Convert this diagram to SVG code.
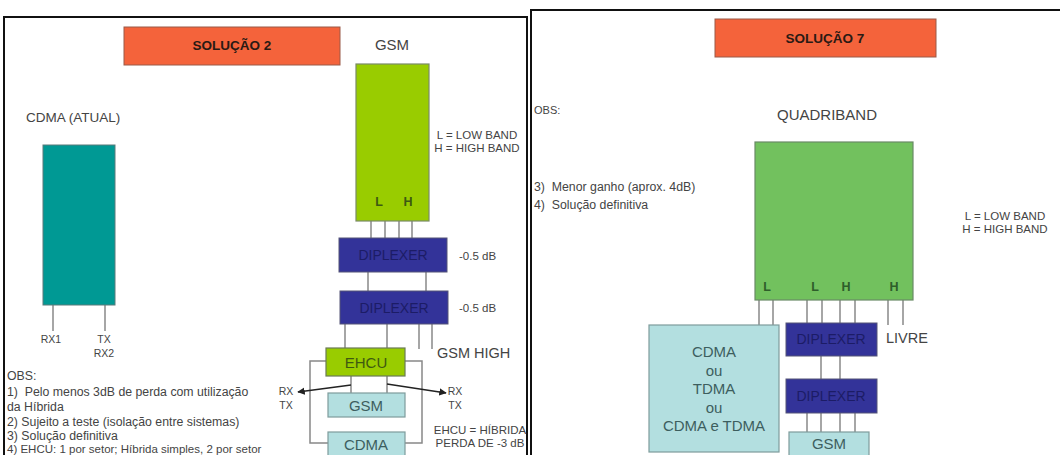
<svg xmlns="http://www.w3.org/2000/svg" width="1060" height="455" viewBox="0 0 1060 455">
<defs>
<style>
text{font-family:"Liberation Sans",Arial,sans-serif;fill:#444;}
.title{font-weight:bold;font-size:13.5px;fill:#2a1a14;text-anchor:middle;}
.lbl{font-size:15px;text-anchor:middle;}
.sm{font-size:11.5px;}
.obs{font-size:12.3px;}
.dip{fill:#333399;stroke:#555577;stroke-width:1;}
.diptx{font-size:14px;fill:#1c1c66;text-anchor:middle;}
.lc{fill:#b3dfe0;stroke:#7e9c9c;stroke-width:1.2;}
.lctx{font-size:15px;fill:#3d5e5e;text-anchor:middle;}
.band{font-size:12.5px;font-weight:bold;text-anchor:middle;}
.ln{stroke:#888;stroke-width:1.5;fill:none;}
.panel{fill:#fff;stroke:#111;stroke-width:2;}
</style>
<marker id="ah" viewBox="0 0 10 10" refX="9" refY="5" markerWidth="5" markerHeight="5" orient="auto">
<path d="M0,0 L10,5 L0,10 z" fill="#222"/>
</marker>
</defs>
<rect width="1060" height="455" fill="#fff"/>

<!-- panels -->
<rect class="panel" x="4" y="17" width="523" height="460"/>
<rect class="panel" x="531" y="10" width="560" height="470"/>

<!-- connectors -->
<g id="connectors">
<line class="ln" x1="53" y1="305" x2="53" y2="331"/>
<line class="ln" x1="105" y1="305" x2="105" y2="331"/>
<line class="ln" x1="371" y1="221" x2="371" y2="238"/>
<line class="ln" x1="385" y1="221" x2="385" y2="238"/>
<line class="ln" x1="399" y1="221" x2="399" y2="238"/>
<line class="ln" x1="412" y1="221" x2="412" y2="238"/>
<line class="ln" x1="368" y1="272" x2="368" y2="291"/>
<line class="ln" x1="426" y1="272" x2="426" y2="291"/>
<line class="ln" x1="345" y1="324" x2="345" y2="348"/>
<line class="ln" x1="387" y1="324" x2="387" y2="348"/>
<line class="ln" x1="419" y1="324" x2="419" y2="349"/>
<line class="ln" x1="432" y1="324" x2="432" y2="349"/>
<polyline class="ln" points="326,361 310,361 310,443 328,443"/>
<polyline class="ln" points="405,361 422,361 422,443 405,443"/>
<line class="ln" x1="351" y1="376" x2="351" y2="393"/>
<line class="ln" x1="387" y1="376" x2="387" y2="393"/>
<line x1="351" y1="385" x2="298" y2="392" stroke="#222" stroke-width="1.5" marker-end="url(#ah)"/>
<line x1="387" y1="384" x2="446" y2="393" stroke="#222" stroke-width="1.5" marker-end="url(#ah)"/>

<line class="ln" x1="759" y1="300" x2="759" y2="325"/>
<line class="ln" x1="773" y1="300" x2="773" y2="325"/>
<line class="ln" x1="807" y1="300" x2="807" y2="323"/>
<line class="ln" x1="822" y1="300" x2="822" y2="323"/>
<line class="ln" x1="840" y1="300" x2="840" y2="323"/>
<line class="ln" x1="855" y1="300" x2="855" y2="323"/>
<line class="ln" x1="888" y1="300" x2="888" y2="325"/>
<line class="ln" x1="903" y1="300" x2="903" y2="325"/>
<line class="ln" x1="821" y1="356" x2="821" y2="379"/>
<line class="ln" x1="840" y1="356" x2="840" y2="379"/>
<line class="ln" x1="807" y1="413" x2="807" y2="432"/>
<line class="ln" x1="821" y1="413" x2="821" y2="432"/>
<line class="ln" x1="840" y1="413" x2="840" y2="432"/>
<line class="ln" x1="855" y1="413" x2="855" y2="432"/>
</g>

<!-- left panel -->
<g id="sol2">
<rect x="124" y="27" width="216" height="38" fill="#f4633b" stroke="#9a5a48" stroke-width="1"/>
<text class="title" x="232" y="50">SOLUÇÃO 2</text>
</g>
<g id="gsm-label"><text class="lbl" x="392" y="50">GSM</text></g>
<g id="gsm-ant">
<rect x="356" y="64" width="73" height="157" fill="#99cc00" stroke="#7a8a66" stroke-width="1.2"/>
<text class="band" x="379" y="206" style="fill:#3d5a12">L</text>
<text class="band" x="408" y="206" style="fill:#3d5a12">H</text>
</g>
<g id="legend-left">
<text class="sm" x="477" y="139" text-anchor="middle">L = LOW BAND</text>
<text class="sm" x="477" y="152" text-anchor="middle">H = HIGH BAND</text>
</g>
<g id="cdma-atual">
<text x="26" y="122" style="font-size:13.5px">CDMA (ATUAL)</text>
<rect x="43" y="145" width="72" height="160" fill="#009994" stroke="#5a7a7a" stroke-width="1"/>
<text class="sm" x="51" y="343" text-anchor="middle" style="font-size:10.5px">RX1</text>
<text class="sm" x="104" y="343" text-anchor="middle" style="font-size:10.5px">TX</text>
<text class="sm" x="104" y="357" text-anchor="middle" style="font-size:10.5px">RX2</text>
</g>
<g id="diplexer1">
<rect class="dip" x="339" y="238" width="108" height="34"/>
<text class="diptx" x="393" y="260">DIPLEXER</text>
<text class="sm" x="459" y="260">-0.5 dB</text>
</g>
<g id="diplexer2">
<rect class="dip" x="340" y="291" width="108" height="33"/>
<text class="diptx" x="394" y="313">DIPLEXER</text>
<text class="sm" x="459" y="312">-0.5 dB</text>
</g>
<g id="gsm-high"><text x="437" y="358" style="font-size:14.5px">GSM HIGH</text></g>
<g id="ehcu">
<rect x="326" y="348" width="79" height="28" fill="#99cc00" stroke="#6a7a55" stroke-width="1.2"/>
<text class="lbl" x="366" y="368" style="fill:#3f5a10">EHCU</text>
</g>
<g id="rxtx-left">
<text class="sm" x="286" y="395" text-anchor="middle" style="font-size:10.5px">RX</text>
<text class="sm" x="286" y="409" text-anchor="middle" style="font-size:10.5px">TX</text>
</g>
<g id="rxtx-right">
<text class="sm" x="455" y="395" text-anchor="middle" style="font-size:10.5px">RX</text>
<text class="sm" x="455" y="409" text-anchor="middle" style="font-size:10.5px">TX</text>
</g>
<g id="gsm-left">
<rect class="lc" x="328" y="393" width="77" height="24"/>
<text class="lctx" x="366" y="411">GSM</text>
</g>
<g id="cdma-left">
<rect class="lc" x="328" y="432" width="77" height="30"/>
<text class="lctx" x="366" y="450">CDMA</text>
</g>
<g id="ehcu-note">
<text class="sm" x="480" y="434" text-anchor="middle">EHCU = HÍBRIDA</text>
<text class="sm" x="480" y="447" text-anchor="middle">PERDA DE -3 dB</text>
</g>
<g id="obs-left">
<text class="obs" x="7" y="380">OBS:</text>
<text class="obs" x="7" y="396" xml:space="preserve">1)  Pelo menos 3dB de perda com utilização</text>
<text class="obs" x="7" y="411">da Híbrida</text>
<text class="obs" x="7" y="426">2) Sujeito a teste (isolação entre sistemas)</text>
<text class="obs" x="7" y="440">3) Solução definitiva</text>
<text class="obs" x="7" y="453" style="font-size:11.5px">4) EHCU: 1 por setor; Híbrida simples, 2 por setor</text>
</g>

<!-- right panel -->
<g id="sol7">
<rect x="715" y="19" width="221" height="38" fill="#f4633b" stroke="#9a5a48" stroke-width="1"/>
<text class="title" x="825" y="43">SOLUÇÃO 7</text>
</g>
<g id="obs-right">
<text class="obs" x="534" y="114" style="font-size:11px">OBS:</text>
<text class="obs" x="534" y="191" xml:space="preserve">3)  Menor ganho (aprox. 4dB)</text>
<text class="obs" x="534" y="209" xml:space="preserve">4)  Solução definitiva</text>
</g>
<g id="quadriband">
<text class="lbl" x="827" y="120">QUADRIBAND</text>
<rect x="755" y="142" width="158" height="158" fill="#72c15e" stroke="#6a8a66" stroke-width="1.2"/>
<text class="band" x="767" y="291" style="fill:#2e5e2a">L</text>
<text class="band" x="815" y="291" style="fill:#2e5e2a">L</text>
<text class="band" x="846" y="291" style="fill:#2e5e2a">H</text>
<text class="band" x="894" y="291" style="fill:#2e5e2a">H</text>
</g>
<g id="legend-right">
<text class="sm" x="1005" y="220" text-anchor="middle">L = LOW BAND</text>
<text class="sm" x="1005" y="233" text-anchor="middle">H = HIGH BAND</text>
</g>
<g id="cdma-tdma">
<rect class="lc" x="649" y="325" width="130" height="127"/>
<text class="lctx" x="714" y="357">CDMA</text>
<text class="lctx" x="714" y="376">ou</text>
<text class="lctx" x="714" y="394">TDMA</text>
<text class="lctx" x="714" y="413">ou</text>
<text class="lctx" x="714" y="431">CDMA e TDMA</text>
</g>
<g id="diplexer3">
<rect class="dip" x="786" y="323" width="91" height="33"/>
<text class="diptx" x="831" y="344">DIPLEXER</text>
</g>
<g id="livre"><text x="886" y="343" style="font-size:14.5px">LIVRE</text></g>
<g id="diplexer4">
<rect class="dip" x="786" y="379" width="91" height="34"/>
<text class="diptx" x="831" y="401">DIPLEXER</text>
</g>
<g id="gsm-right">
<rect class="lc" x="789" y="432" width="80" height="30"/>
<text class="lctx" x="829" y="449">GSM</text>
</g>
</svg>
